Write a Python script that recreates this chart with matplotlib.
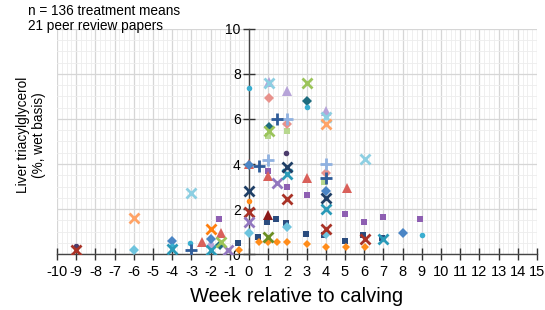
import matplotlib
matplotlib.use("Agg")
import matplotlib.pyplot as plt
from matplotlib.ticker import MultipleLocator

plt.rcParams['font.family'] = ['Liberation Sans', 'DejaVu Sans']

# ---- data (week, liver TAG %) ----
navy_sq_x = [-0.55, 0.45, 0.95, 1.4, 1.95, 2.95, 3.9, 5.0, 5.95, 6.95]
navy_sq_y = [0.48, 0.74, 1.44, 1.56, 1.39, 0.87, 0.84, 0.6, 0.84, 0.7]
orange_dia_x = [-0.5, 0.5, 1.0, 1.45, 2.0, 3.0, 4.0, 5.05, 6.05]
orange_dia_y = [0.18, 0.55, 0.55, 0.55, 0.55, 0.43, 0.32, 0.32, 0.32]
orange_dot_x = [0.0]
orange_dot_y = [2.37]
red_tri_x = [-2.45, -1.45, 0.0, 1.0, 3.0, 5.1]
red_tri_y = [0.52, 0.92, 4.0, 3.48, 3.38, 2.92]
darkred_tri_x = [1.0]
darkred_tri_y = [1.75]
darkred_x_x = [-9.0, 0.0, 2.0, 4.0, 6.05]
darkred_x_y = [0.17, 1.88, 2.43, 1.12, 0.65]
purple_sq_x = [-1.55, 1.0, 2.0, 3.0, 5.0, 6.0, 7.0, 8.9]
purple_sq_y = [1.55, 3.7, 3.0, 2.63, 1.78, 1.44, 1.66, 1.54]
purple_x_x = [0.0, 1.45, -1.1]
purple_x_y = [1.44, 3.14, 0.2]
lilac_tri_x = [2.0, 1.05, 4.0, -2.0]
lilac_tri_y = [7.25, 7.65, 6.35, 0.5]
lightblue_x_x = [1.05, 4.0, -3.0, 6.05]
lightblue_x_y = [7.6, 6.1, 2.7, 4.22]
lightorange_x_x = [-6.0, 4.0]
lightorange_x_y = [1.6, 5.76]
orange_x_x = [-2.0]
orange_x_y = [1.13]
teal_x_x = [-4.0, -2.0, 2.0, 4.0, 7.0]
teal_x_y = [0.22, 0.18, 3.56, 1.99, 0.65]
navy_x_x = [0.0, 2.0, 4.0]
navy_x_y = [2.8, 3.87, 2.47]
lightblue_plus_x = [1.0, 2.0, 4.0]
lightblue_plus_y = [4.2, 6.0, 3.98]
blue_plus_x = [0.5, 1.45, 4.0, -3.0]
blue_plus_y = [3.9, 6.0, 3.39, 0.18]
blue_dia_x = [-4.0, -2.0, 4.0, 8.0, 0.0]
blue_dia_y = [0.58, 0.65, 2.82, 0.92, 3.95]
cyan_dot_x = [0.0, 3.0, -3.05, 9.0, -4.0]
cyan_dot_y = [7.36, 6.55, 0.5, 0.84, 0.35]
lightcyan_dia_x = [-6.0, 0.0, 2.0, 4.0]
lightcyan_dia_y = [0.18, 0.92, 1.2, 0.87]
green_x_x = [3.0, 1.05, -1.45]
green_x_y = [7.62, 5.45, 0.55]
olive_x_x = [1.0]
olive_x_y = [0.75]
lightgreen_sq_x = [1.0, 2.0, 3.9]
lightgreen_sq_y = [5.24, 5.47, 3.2]
pink_dia_x = [1.05, 2.0, 4.0]
pink_dia_y = [6.95, 5.78, 3.62]
darkteal_dia_x = [3.0, 1.05, -1.5]
darkteal_dia_y = [6.82, 5.65, 0.38]
darkpurple_dot_x = [1.95, -9.0]
darkpurple_dot_y = [4.5, 0.35]

x_ticks = list(range(-10, 16))
y_ticks = [0, 2, 4, 6, 8, 10]

fig = plt.figure(figsize=(5.45, 3.10), dpi=100)
ax = fig.add_axes([0.1046, 0.1806, 0.8807, 0.7259])

series = [
    (lightgreen_sq_x, lightgreen_sq_y, 's', '#b7d78e', 4.5, None),
    (navy_sq_x, navy_sq_y, 's', '#2b4c7e', 4, None),
    (purple_sq_x, purple_sq_y, 's', '#8e5fb2', 4.5, None),
    (orange_dia_x, orange_dia_y, 'D', '#ff8c1a', 4.5, None),
    (orange_dot_x, orange_dot_y, 'o', '#ff8c1a', 4, None),
    (lilac_tri_x, lilac_tri_y, '^', '#b6a3d8', 7, None),
    (red_tri_x, red_tri_y, '^', '#d9605a', 7, None),
    (darkred_tri_x, darkred_tri_y, '^', '#8b1a1a', 7, None),
    (pink_dia_x, pink_dia_y, 'D', '#e8928c', 5, None),
    (blue_dia_x, blue_dia_y, 'D', '#4a85c5', 5, None),
    (lightcyan_dia_x, lightcyan_dia_y, 'D', '#6ec4de', 5, None),
    (darkteal_dia_x, darkteal_dia_y, 'D', '#1e6c7e', 5, None),
    (cyan_dot_x, cyan_dot_y, 'o', '#3aaed0', 4, None),
    (darkpurple_dot_x, darkpurple_dot_y, 'o', '#4b3b6b', 4, None),
    (lightblue_plus_x, lightblue_plus_y, 'P', '#8fb1e0', 7, 'plus'),
    (blue_plus_x, blue_plus_y, 'P', '#2f5c99', 7, 'plus'),
    (darkred_x_x, darkred_x_y, 'X', '#a93226', 7, 'x'),
    (purple_x_x, purple_x_y, 'X', '#9277bf', 7, 'x'),
    (lightblue_x_x, lightblue_x_y, 'X', '#8dcfe2', 7, 'x'),
    (lightorange_x_x, lightorange_x_y, 'X', '#ffa366', 7, 'x'),
    (orange_x_x, orange_x_y, 'X', '#ff7f0e', 7, 'x'),
    (teal_x_x, teal_x_y, 'X', '#2a9ab8', 7, 'x'),
    (navy_x_x, navy_x_y, 'X', '#1f3f66', 7, 'x'),
    (green_x_x, green_x_y, 'X', '#9bc45a', 7, 'x'),
    (olive_x_x, olive_x_y, 'X', '#6b8e23', 7, 'x'),
]
for xs, ys, m, c, s, kind in series:
    if kind == 'x':
        ax.plot(xs, ys, linestyle='none', marker='x', markersize=s,
                markeredgewidth=2.0, color=c, zorder=3)
    elif kind == 'plus':
        ax.plot(xs, ys, linestyle='none', marker='+', markersize=s + 1,
                markeredgewidth=2.0, color=c, zorder=3)
    else:
        ax.plot(xs, ys, linestyle='none', marker=m, markersize=s,
                markeredgewidth=0, color=c, zorder=3)

ax.set_xlim(-10, 15)
ax.set_ylim(0, 10)
ax.set_xticks(x_ticks)
ax.set_xticklabels([str(v) for v in x_ticks], fontsize=10.5)
ax.set_yticks(y_ticks)
ax.set_yticklabels([str(v) for v in y_ticks], fontsize=10.5, fontweight='bold')
ax.xaxis.set_minor_locator(MultipleLocator(0.25))
ax.yaxis.set_minor_locator(MultipleLocator(0.5))

ax.grid(which='major', color='#d6d6d6', linewidth=0.9, zorder=0)
ax.grid(which='minor', color='#ededed', linewidth=0.6, zorder=0)
ax.set_axisbelow(True)

ax.spines['left'].set_position(('data', 0))
ax.spines['top'].set_visible(False)
ax.spines['right'].set_visible(False)
for sp in ('left', 'bottom'):
    ax.spines[sp].set_color('#444444')
    ax.spines[sp].set_linewidth(1.0)

ax.tick_params(which='major', direction='inout', length=8, width=1,
               color='#333333')
ax.tick_params(axis='x', which='major', pad=4)
ax.tick_params(axis='y', which='major', pad=2)
ax.tick_params(which='minor', length=0)

ax.set_xlabel('Week relative to calving', fontsize=14.5, labelpad=6)

fig.text(31 / 545, 1 - 135 / 310, 'Liver triacylglycerol\n(%, wet basis)',
         fontsize=9.8, rotation=90, ha='center', va='center',
         multialignment='center', linespacing=1.15)

fig.text(28 / 545, 1 - 4 / 310, 'n = 136 treatment means\n21 peer review papers',
         fontsize=9.8, va='top', ha='left', linespacing=1.1)

fig.savefig('out.png', dpi=100)
